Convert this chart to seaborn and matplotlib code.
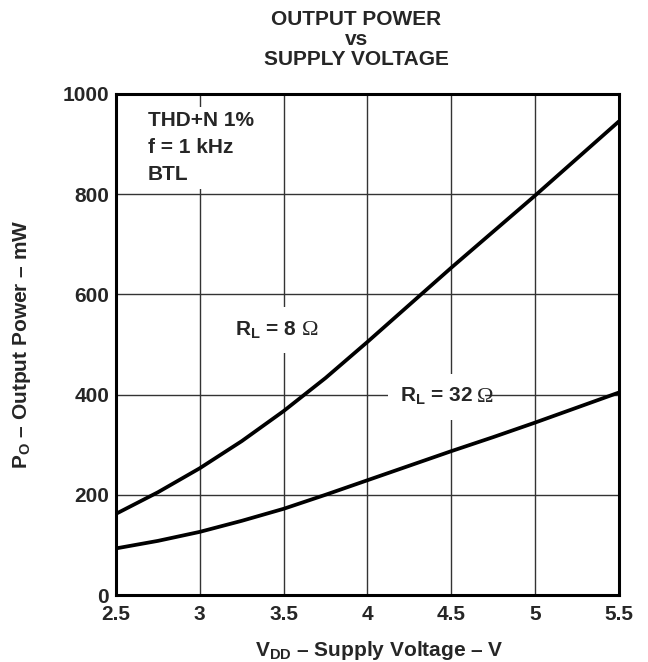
import numpy as np
import pandas as pd
import matplotlib
matplotlib.use('Agg')
import matplotlib.pyplot as plt
import seaborn as sns

# values
vdd = [2.5, 2.75, 3.0, 3.25, 3.5, 3.75, 4.0, 4.25, 4.5, 4.75, 5.0, 5.25, 5.5]
p_8ohm = [162, 205, 253, 307, 367, 433, 505, 579, 653, 725, 797, 871, 945]
p_32ohm = [93, 108, 126, 148, 172, 200, 229, 258, 287, 315, 344, 374, 404]
x_ticks = [2.5, 3, 3.5, 4, 4.5, 5, 5.5]
x_tick_labels = ['2.5', '3', '3.5', '4', '4.5', '5', '5.5']
y_ticks = [0, 200, 400, 600, 800, 1000]

sns.set_style('white')
plt.rcParams['font.family'] = ['Liberation Sans', 'DejaVu Sans']
plt.rcParams['font.weight'] = 'bold'
plt.rcParams['mathtext.fontset'] = 'custom'
plt.rcParams['mathtext.rm'] = 'Liberation Sans:bold'
plt.rcParams['mathtext.it'] = 'Liberation Sans:bold'
plt.rcParams['mathtext.bf'] = 'Liberation Sans:bold'

df = pd.DataFrame({
    'vdd': vdd * 2,
    'power': p_8ohm + p_32ohm,
    'load': ['8'] * len(vdd) + ['32'] * len(vdd),
})

fig = plt.figure(figsize=(6.48, 6.62), dpi=100)
ax = fig.add_axes([0.179, 0.1012, 0.776, 0.757])

sns.lineplot(data=df, x='vdd', y='power', hue='load', palette=['black', 'black'],
             linewidth=2.7, legend=False, ax=ax, zorder=3)

ax.set_xlim(2.5, 5.5)
ax.set_ylim(0, 1000)
ax.set_xticks(x_ticks)
ax.set_xticklabels(x_tick_labels)
ax.set_yticks(y_ticks)
ax.tick_params(axis='both', length=0, labelsize=15)
ax.tick_params(axis='x', pad=7)
ax.tick_params(axis='y', pad=5)
for lab in ax.get_xticklabels() + ax.get_yticklabels():
    lab.set_fontweight('bold')
ax.grid(True, color='#333333', linewidth=1.0)
for sp in ax.spines.values():
    sp.set_visible(True)
    sp.set_color('black')
    sp.set_linewidth(2.2)
    sp.set_zorder(4)

ax.set_xlabel(r'$\mathbf{V_{DD}}$ – Supply Voltage – V', fontsize=15, fontweight='bold')
ax.set_ylabel(r'$\mathbf{P_O}$ – Output Power – mW', fontsize=15, fontweight='bold')
ax.xaxis.set_label_coords(0.523, -0.088)
ax.yaxis.set_label_coords(-0.166, 0.5)

for ty, line in zip([0.9622, 0.932, 0.9018], ['OUTPUT POWER', 'vs', 'SUPPLY VOLTAGE']):
    fig.text(0.55, ty, line, ha='center', va='baseline', fontsize=15, fontweight='bold')

box = dict(facecolor='white', edgecolor='none', pad=3)
ax.text(2.69, 966, 'THD+N 1%\nf = 1 kHz\nBTL', ha='left', va='top', fontsize=15,
        fontweight='bold', linespacing=1.55, bbox=box, zorder=5)

# load labels: bold sans text (trailing math space leaves room), serif omega on top
box2 = dict(facecolor='white', edgecolor='none', pad=9)
ax.text(3.209, 518, r'$\mathbf{R_L}$ = 8$\quad\;$', ha='left', va='baseline',
        fontsize=15, fontweight='bold', bbox=box2, zorder=5)
ax.text(3.606, 518, 'Ω', ha='left', va='baseline', fontsize=16,
        family='Liberation Serif', fontweight='normal', zorder=6)
ax.text(4.195, 385, r'$\mathbf{R_L}$ = 32$\quad\;$', ha='left', va='baseline',
        fontsize=15, fontweight='bold', bbox=box2, zorder=5)
ax.text(4.652, 385, 'Ω', ha='left', va='baseline', fontsize=16,
        family='Liberation Serif', fontweight='normal', zorder=6)

fig.savefig('out.png', dpi=100)
